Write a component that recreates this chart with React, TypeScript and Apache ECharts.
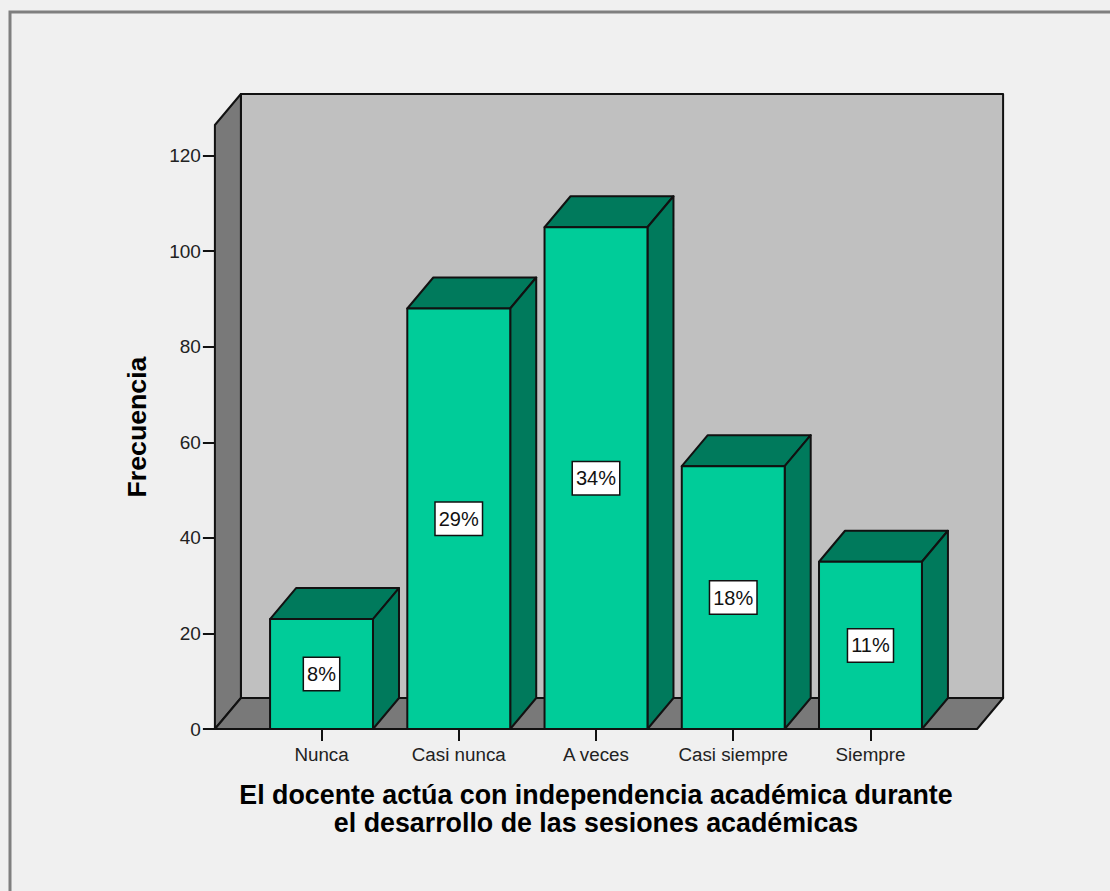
import React, { useEffect, useRef } from "react";
import * as echarts from "echarts";

const categories = ["Nunca", "Casi nunca", "A veces", "Casi siempre", "Siempre"];
const frequencies = [23, 88, 105, 55, 35];
const percentLabels = ["8%", "29%", "34%", "18%", "11%"];
const yTicks = [0, 20, 40, 60, 80, 100, 120];
const xTitle = "El docente actúa con independencia académica durante\nel desarrollo de las sesiones académicas";
const yTitle = "Frecuencia";

const FONT = '"Liberation Sans", Arial, sans-serif';
const DEPTH_X = 26;
const DEPTH_Y = 31;
const AXIS_INSET = 38;
const INK = "#111111";
const EDGE = { stroke: INK, lineWidth: 2, lineJoin: "round" };

const poly = (points: number[][], fill: string) => ({
  type: "polygon",
  shape: { points },
  style: { fill, ...EDGE },
});

// Side wall, back wall and floor of the 3D plot box.
function renderWalls(params: any, api: any) {
  const cs = params.coordSys;
  const left = cs.x - AXIS_INSET;
  const right = cs.x + cs.width + AXIS_INSET;
  const bottom = api.coord([0, 0])[1];
  const top = cs.y;
  const dx = DEPTH_X;
  const dy = DEPTH_Y;
  return {
    type: "group",
    children: [
      poly([[left + dx, top - dy], [right + dx, top - dy], [right + dx, bottom - dy], [left + dx, bottom - dy]], "#c0c0c0"),
      poly([[left, top], [left + dx, top - dy], [left + dx, bottom - dy], [left, bottom]], "#797979"),
      poly([[left, bottom], [right, bottom], [right + dx, bottom - dy], [left + dx, bottom - dy]], "#797979"),
    ],
  };
}

// One extruded bar with its percentage box in the middle of the front face.
function renderBar(params: any, api: any) {
  const i = api.value(0);
  const [cx, yTop] = api.coord([i, api.value(1)]);
  const yBase = api.coord([i, 0])[1];
  const w = api.size([1, 0])[0] * 0.75;
  const x0 = cx - w / 2;
  const x1 = cx + w / 2;
  const dx = DEPTH_X;
  const dy = DEPTH_Y;
  return {
    type: "group",
    children: [
      poly([[x0, yTop], [x1, yTop], [x1 + dx, yTop - dy], [x0 + dx, yTop - dy]], "#007a5c"),
      poly([[x1, yTop], [x1 + dx, yTop - dy], [x1 + dx, yBase - dy], [x1, yBase]], "#007a5c"),
      poly([[x0, yTop], [x1, yTop], [x1, yBase], [x0, yBase]], "#00cc99"),
      {
        type: "text",
        x: cx,
        y: (yTop + yBase) / 2,
        style: {
          text: percentLabels[params.dataIndex],
          align: "center",
          verticalAlign: "middle",
          fontFamily: FONT,
          fontSize: 20,
          fill: "#111111",
          backgroundColor: "#ffffff",
          borderColor: INK,
          borderWidth: 1.5,
          padding: [7, 3, 5, 3],
        },
      },
    ],
  };
}

export default function App() {
  const ref = useRef<HTMLDivElement>(null);

  useEffect(() => {
    const chart = echarts.init(ref.current!, null, { renderer: "svg" });
    chart.setOption({
      animation: false,
      backgroundColor: "#f0f0f0",
      grid: { left: 252.9, width: 686.2, top: 125, height: 604 },
      graphic: [
        {
          type: "rect",
          z: 0,
          shape: { x: 10, y: 12, width: 1300, height: 1100 },
          style: { fill: "none", stroke: "#7f7f7f", lineWidth: 3 },
        },
      ],
      xAxis: {
        type: "category",
        data: categories,
        axisLine: { show: false },
        axisTick: { show: true, interval: 0, alignWithLabel: true, length: 12, lineStyle: { color: INK, width: 2 } },
        axisLabel: { interval: 0, color: "#222222", fontFamily: FONT, fontSize: 18.8, margin: 16 },
        name: xTitle,
        nameLocation: "middle",
        nameGap: 52,
        nameTextStyle: { color: "#000000", fontFamily: FONT, fontSize: 26.8, fontWeight: "bold", lineHeight: 28 },
      },
      yAxis: {
        type: "value",
        min: 0,
        max: 126.4,
        offset: AXIS_INSET,
        splitLine: { show: false },
        axisLine: { show: false },
        axisTick: { show: true, length: 12, customValues: yTicks, lineStyle: { color: INK, width: 2 } },
        axisLabel: { customValues: yTicks, color: "#222222", fontFamily: FONT, fontSize: 19, margin: 14 },
        name: yTitle,
        nameLocation: "middle",
        nameGap: 64,
        nameTextStyle: { color: "#000000", fontFamily: FONT, fontSize: 26.7, fontWeight: "bold" },
      },
      series: [
        { type: "custom", silent: true, data: [[0, 0]], renderItem: renderWalls, z: 1 },
        {
          type: "custom",
          data: frequencies.map((v, i) => [i, v]),
          encode: { x: 0, y: 1 },
          renderItem: renderBar,
          z: 2,
        },
      ],
    });
    return () => chart.dispose();
  }, []);

  return <div ref={ref} style={{ position: "absolute", left: 0, top: 0, width: 1110, height: 891 }} />;
}
